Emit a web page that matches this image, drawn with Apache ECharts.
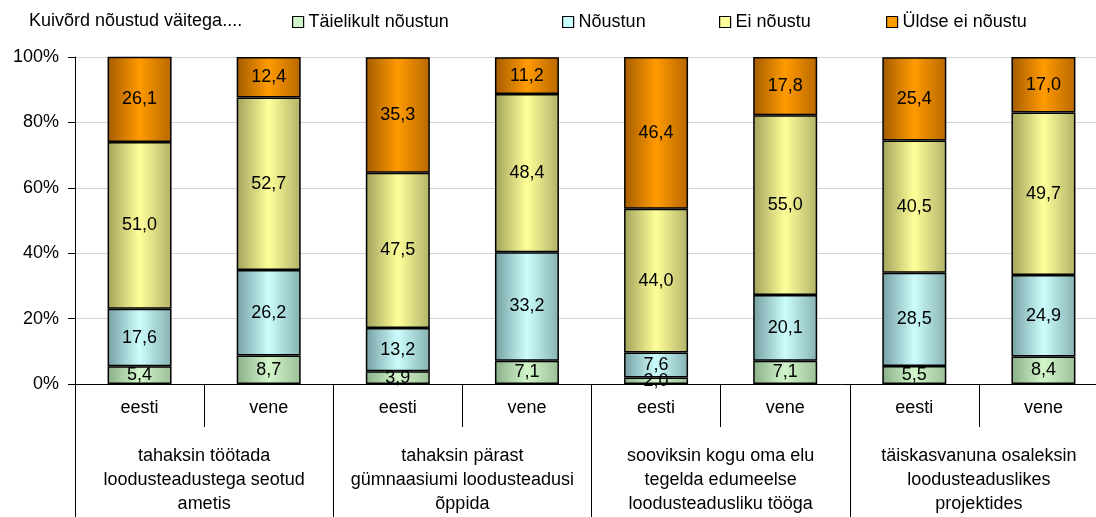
<!DOCTYPE html>
<html>
<head>
<meta charset="utf-8">
<script src="https://cdn.jsdelivr.net/npm/echarts@6/dist/echarts.min.js"></script>
<style>
  html, body { margin: 0; padding: 0; background: #fff; overflow: hidden; }
  #chart { width: 1096px; height: 517px; }
</style>
</head>
<body>
<div id="chart"></div>
<script>
// 100% stacked bars, eesti / vene per statement
const languages = ['eesti', 'vene', 'eesti', 'vene', 'eesti', 'vene', 'eesti', 'vene'];
const statements = [
    'tahaksin töötada\nloodusteadustega seotud\nametis',
    'tahaksin pärast\ngümnaasiumi loodusteadusi\nõppida',
    'sooviksin kogu oma elu\ntegelda edumeelse\nloodusteadusliku tööga',
    'täiskasvanuna osaleksin\nloodusteaduslikes\nprojektides'
];
const seriesNames = ['Täielikult nõustun', 'Nõustun', 'Ei nõustu', 'Üldse ei nõustu'];
const fullyAgree = [5.4, 8.7, 3.9, 7.1, 2.0, 7.1, 5.5, 8.4];
const agree = [17.6, 26.2, 13.2, 33.2, 7.6, 20.1, 28.5, 24.9];
const disagree = [51.0, 52.7, 47.5, 48.4, 44.0, 55.0, 40.5, 49.7];
const fullyDisagree = [26.1, 12.4, 35.3, 11.2, 46.4, 17.8, 25.4, 17.0];
const yTicks = [0, 20, 40, 60, 80, 100];

const FONT = '"Liberation Sans", Arial, sans-serif';

// edge / centre colours of the excel style gradient fill
const fills = [
    ['#8aae88', '#d2f6ca', '#9cbf98'],
    ['#76a0a3', '#ccfdfd', '#86b1b3'],
    ['#a2a25c', '#ffff99', '#b2b26a'],
    ['#a45c00', '#ff9a00', '#b86800']
];
const legendLeft = [287, 557, 714, 881];

function grad(c) {
    return new echarts.graphic.LinearGradient(0, 0, 1, 0, [
        { offset: 0, color: c[0] },
        { offset: 0.5, color: c[1] },
        { offset: 1, color: c[2] }
    ]);
}

const chart = echarts.init(document.getElementById('chart'));

const values = [fullyAgree, agree, disagree, fullyDisagree];

const option = {
    animation: false,
    backgroundColor: '#fff',
    textStyle: { fontFamily: FONT },
    graphic: [{
        type: 'text',
        left: 29,
        top: 12,
        style: { text: 'Kuivõrd nõustud väitega....', font: '18px ' + FONT, fill: '#000' }
    }],
    legend: seriesNames.map((n, i) => ({
        data: [n],
        left: legendLeft[i],
        top: 8,
        icon: 'rect',
        itemWidth: 11,
        itemHeight: 11,
        itemStyle: { color: fills[i][1], borderColor: '#000', borderWidth: 1.2 },
        textStyle: { fontSize: 18, color: '#000', fontFamily: FONT }
    })),
    grid: {
        left: 75,
        top: 57,
        bottom: 133,
        width: 1033,
        outerBoundsMode: 'none'
    },
    xAxis: [{
        type: 'category',
        data: languages,
        position: 'bottom',
        axisLine: { lineStyle: { color: '#000', width: 1 } },
        axisTick: { show: true, interval: 0, length: 43, lineStyle: { color: '#000' } },
        axisLabel: { interval: 0, margin: 15, fontSize: 18, color: '#000', fontFamily: FONT }
    }, {
        type: 'category',
        data: statements,
        position: 'bottom',
        axisLine: { show: false },
        axisTick: { show: true, interval: 0, length: 140, lineStyle: { color: '#000' } },
        axisLabel: { interval: 0, margin: 60, fontSize: 18, lineHeight: 24, color: '#000', fontFamily: FONT }
    }],
    yAxis: {
        type: 'value',
        min: yTicks[0],
        max: yTicks[yTicks.length - 1],
        interval: 20,
        axisLine: { show: true, lineStyle: { color: '#000' } },
        axisTick: { show: true, length: 7, lineStyle: { color: '#000' } },
        axisLabel: { formatter: '{value}%', margin: 16, fontSize: 18, color: '#000', fontFamily: FONT },
        splitLine: { lineStyle: { color: '#d4d4d4', width: 1 } }
    },
    series: seriesNames.map((n, i) => ({
        name: n,
        type: 'bar',
        stack: 'all',
        barWidth: 64,
        data: values[i],
        itemStyle: { color: grad(fills[i]), borderColor: '#000', borderWidth: 1.5 },
        label: {
            show: true,
            position: 'inside',
            fontSize: 18,
            color: '#000',
            fontFamily: FONT,
            formatter: p => p.value.toFixed(1).replace('.', ',')
        }
    }))
};

chart.setOption(option);
</script>
</body>
</html>
